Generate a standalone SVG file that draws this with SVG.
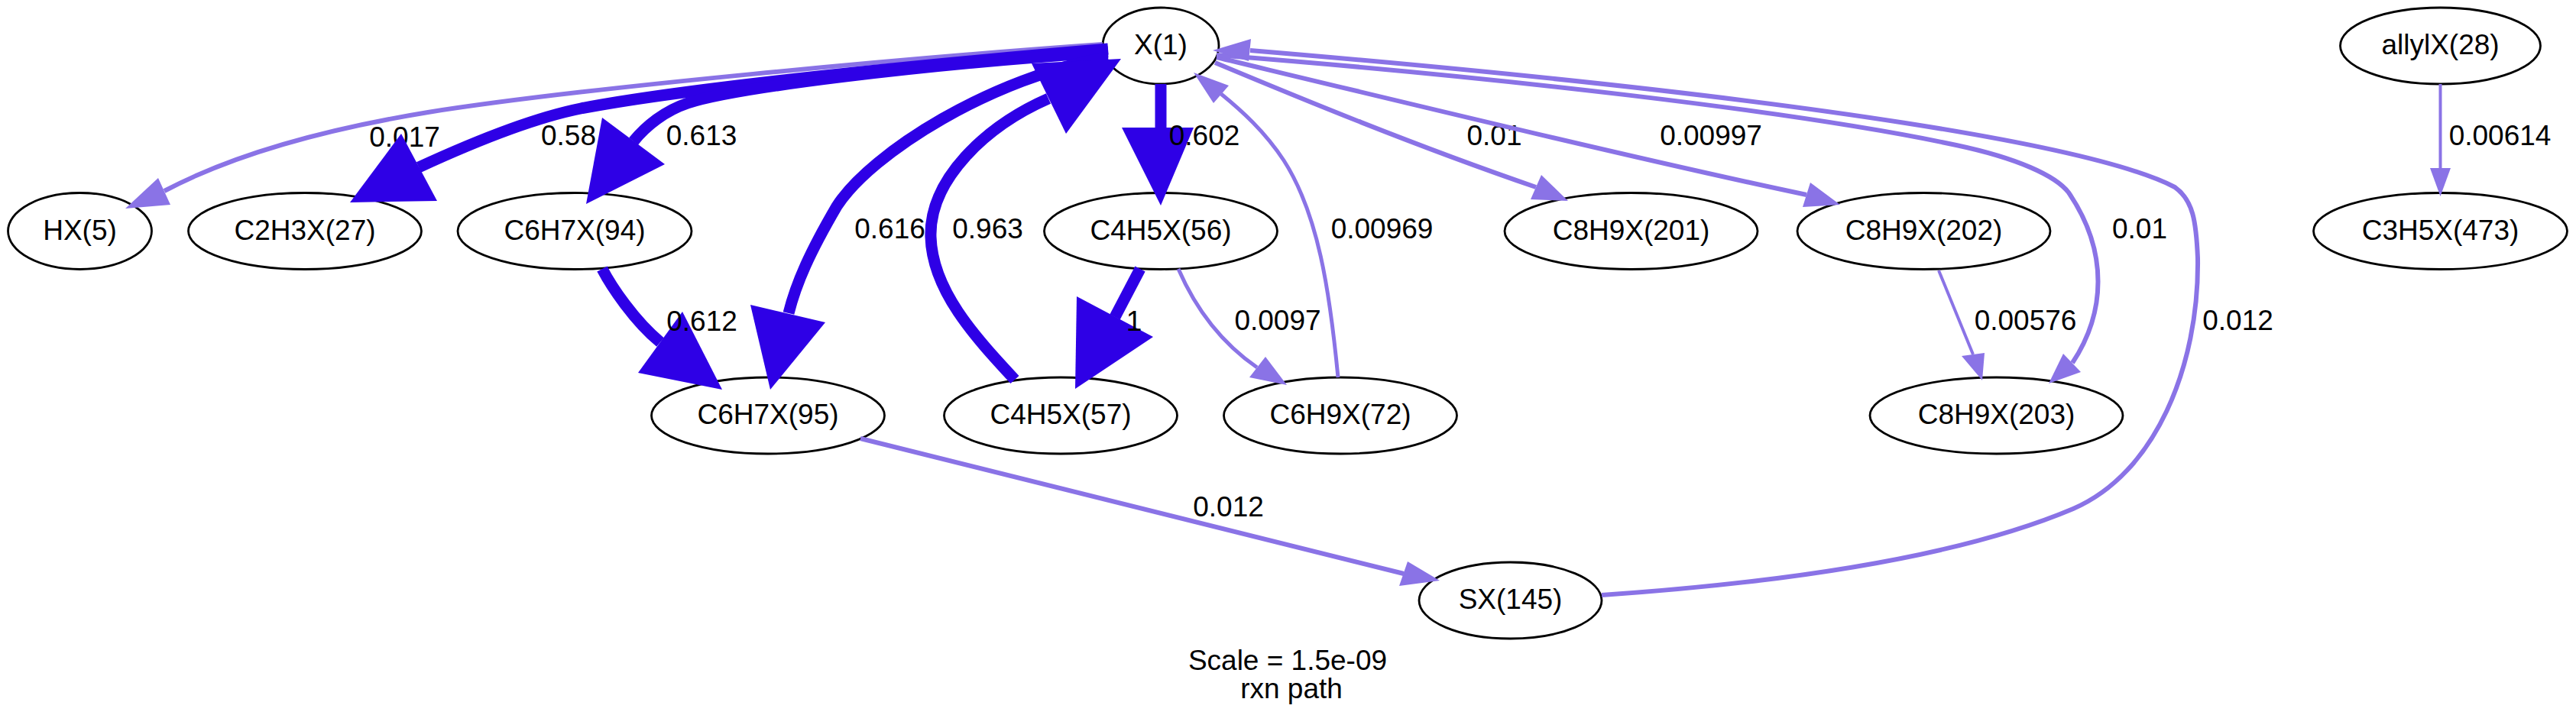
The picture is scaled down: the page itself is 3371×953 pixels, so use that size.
<svg xmlns="http://www.w3.org/2000/svg" width="3371" height="953" viewBox="0 0 3371 953">
<style>
.node ellipse{fill:none;stroke:#000;stroke-width:2.8}
text{font-family:"Liberation Sans",Arial,Helvetica,sans-serif;font-size:37px;fill:#000}
.c{text-anchor:middle}
.dk{stroke:#2E00E6;fill:none;stroke-width:15}
.lt{stroke:#8A73E6;fill:none;stroke-width:6}
.lt5{stroke:#8A73E6;fill:none;stroke-width:5}
.lt4{stroke:#8A73E6;fill:none;stroke-width:4}
.ad{fill:#2E00E6}
.al{fill:#8A73E6}
</style>
<rect width="3371" height="953" fill="#fff"/>
<g id="nodes">
<g id="n-X1" class="node"><ellipse cx="1519" cy="60" rx="76" ry="50"/><text class="c" x="1519" y="71">X(1)</text></g>
<g id="n-allylX28" class="node"><ellipse cx="3193.5" cy="60" rx="131" ry="50"/><text class="c" x="3193.5" y="71">allylX(28)</text></g>
<g id="n-HX5" class="node"><ellipse cx="104.5" cy="302.5" rx="94" ry="50"/><text class="c" x="104.5" y="313.5">HX(5)</text></g>
<g id="n-C2H3X27" class="node"><ellipse cx="399" cy="302.5" rx="152.5" ry="50"/><text class="c" x="399" y="313.5">C2H3X(27)</text></g>
<g id="n-C6H7X94" class="node"><ellipse cx="752" cy="302.5" rx="153" ry="50"/><text class="c" x="752" y="313.5">C6H7X(94)</text></g>
<g id="n-C4H5X56" class="node"><ellipse cx="1519" cy="302.5" rx="152.5" ry="50"/><text class="c" x="1519" y="313.5">C4H5X(56)</text></g>
<g id="n-C8H9X201" class="node"><ellipse cx="2134.5" cy="302.5" rx="165.5" ry="50"/><text class="c" x="2134.5" y="313.5">C8H9X(201)</text></g>
<g id="n-C8H9X202" class="node"><ellipse cx="2517.5" cy="302.5" rx="165.5" ry="50"/><text class="c" x="2517.5" y="313.5">C8H9X(202)</text></g>
<g id="n-C3H5X473" class="node"><ellipse cx="3193.5" cy="302.5" rx="166" ry="50"/><text class="c" x="3193.5" y="313.5">C3H5X(473)</text></g>
<g id="n-C6H7X95" class="node"><ellipse cx="1005" cy="544" rx="152.5" ry="50"/><text class="c" x="1005" y="555">C6H7X(95)</text></g>
<g id="n-C4H5X57" class="node"><ellipse cx="1388" cy="544" rx="152.5" ry="50"/><text class="c" x="1388" y="555">C4H5X(57)</text></g>
<g id="n-C6H9X72" class="node"><ellipse cx="1754" cy="544" rx="152.5" ry="50"/><text class="c" x="1754" y="555">C6H9X(72)</text></g>
<g id="n-C8H9X203" class="node"><ellipse cx="2612.5" cy="544" rx="165.5" ry="50"/><text class="c" x="2612.5" y="555">C8H9X(203)</text></g>
<g id="n-SX145" class="node"><ellipse cx="1976.5" cy="786" rx="119.5" ry="50"/><text class="c" x="1976.5" y="797">SX(145)</text></g>
</g>
<g id="connectors">
<g id="e-X1-HX5"><path class="lt" d="M1443,58 C1200,75 760,115 560,147 C420,170 300,205 215,250"/><polygon class="al" points="164,273 207,233 223,268"/><text class="c" x="529.5" y="192">0.017</text></g>
<g id="e-X1-C2H3X27"><path class="dk" d="M1450,64 C1200,85 900,115 760,142 C690,156 600,195 548,219"/><polygon class="ad" points="458,265 525,175 572,263"/><text x="708" y="190">0.58</text></g>
<g id="e-X1-C6H7X94"><path class="dk" d="M1450,68 C1200,85 960,115 900,135 C870,145 845,165 829,185"/><polygon class="ad" points="767,267 788,154 870,215"/><text class="c" x="918" y="190">0.613</text></g>
<g id="e-X1-C6H7X95"><path class="dk" d="M1450,75 C1300,100 1140,200 1095,270 C1060,330 1042,370 1032,410"/><polygon class="ad" points="1008,510 982,399 1080,422"/><text class="c" x="1164.5" y="312">0.616</text></g>
<g id="e-C4H5X57-X1"><path class="dk" d="M1328,497 C1275,440 1220,380 1218,310 C1216,235 1290,165 1372,129"/><polygon class="ad" points="1467,77 1395,175 1350,83"/><text class="c" x="1292.5" y="312">0.963</text></g>
<g id="e-X1-C4H5X56"><path class="dk" d="M1519,110 L1519,168"/><polygon class="ad" points="1519,269 1468,167 1562,167"/><text class="c" x="1576" y="190">0.602</text></g>
<g id="e-C6H7X94-C6H7X95"><path class="dk" d="M788,352 C800,375 830,420 864,448"/><polygon class="ad" points="945,510 893,408 835,488"/><text class="c" x="918.5" y="433">0.612</text></g>
<g id="e-C4H5X56-C4H5X57"><path class="dk" d="M1492,352 L1459,415"/><polygon class="ad" points="1407,509 1409,388 1509,441"/><text class="c" x="1484" y="433">1</text></g>
<g id="e-C4H5X56-C6H9X72"><path class="lt5" d="M1542,352 C1565,405 1600,450 1645,481"/><polygon class="al" points="1684,504 1656,467 1635,494"/><text class="c" x="1672" y="432">0.0097</text></g>
<g id="e-C6H9X72-X1"><path class="lt5" d="M1751,494 C1740,380 1725,280 1680,210 C1655,172 1625,145 1598,123"/><polygon class="al" points="1562,95 1608,112 1588,135"/><text class="c" x="1808.5" y="312">0.00969</text></g>
<g id="e-X1-C8H9X201"><path class="lt" d="M1590,82 C1700,128 1850,190 2010,245"/><polygon class="al" points="2052,263 2003,261 2017,229"/><text class="c" x="1955.5" y="190">0.01</text></g>
<g id="e-X1-C8H9X202"><path class="lt" d="M1592,75 C1800,125 2150,210 2364,255"/><polygon class="al" points="2408,268 2359,271 2369,239"/><text class="c" x="2239" y="190">0.00997</text></g>
<g id="e-X1-C8H9X203"><path class="lt" d="M1592,72 C1950,100 2350,145 2560,190 C2640,207 2690,230 2707,252 C2760,330 2755,410 2712,475"/><polygon class="al" points="2681,502 2700,463 2723,487"/><text class="c" x="2800" y="312">0.01</text></g>
<g id="e-SX145-X1"><path class="lt" d="M2096,779 C2300,765 2550,735 2713,666 C2820,620 2878,480 2876,338 C2874,290 2870,262 2846,245 C2750,195 2400,130 1636,66"/><polygon class="al" points="1587,66 1637,51 1634,80"/><text class="c" x="2928.5" y="432">0.012</text></g>
<g id="e-C8H9X202-C8H9X203"><path class="lt4" d="M2537,354 L2582,464"/><polygon class="al" points="2594,498 2567,466 2597,462"/><text class="c" x="2650.5" y="432">0.00576</text></g>
<g id="e-allylX28-C3H5X473"><path class="lt4" d="M3193.5,110 L3193.5,221"/><polygon class="al" points="3193.5,257 3180,220 3207,220"/><text class="c" x="3271.5" y="190">0.00614</text></g>
<g id="e-C6H7X95-SX145"><path class="lt" d="M1126,574 L1837,751"/><polygon class="al" points="1884,760 1842,735 1831,767"/><text class="c" x="1607.5" y="676">0.012</text></g>
</g>
<g id="caption">
<text class="c" x="1685" y="877">Scale = 1.5e-09</text>
<text class="c" x="1690" y="914">rxn path</text>
</g>
</svg>
